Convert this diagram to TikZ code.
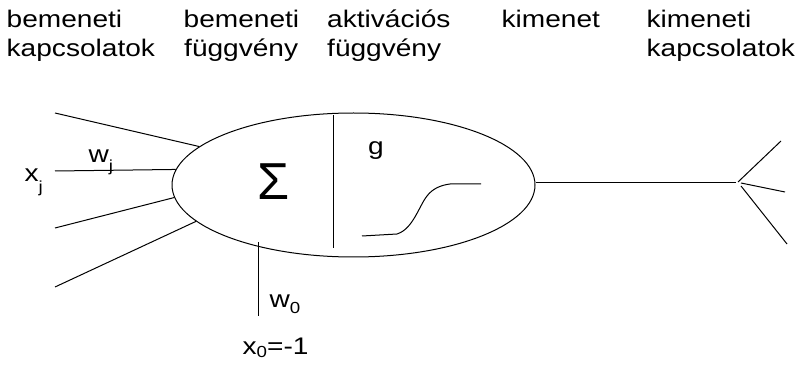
\documentclass[tikz,border=0pt]{standalone}
\usepackage{fontspec}
\setmainfont{Liberation Sans}
\newfontfamily\labfont{Liberation Sans}[FakeStretch=1.17]
\usetikzlibrary{shapes.geometric}
\newcommand{\lsub}[2]{\raisebox{-#1pt}{\fontsize{16}{16}\selectfont #2}}
\tikzset{
  lab/.style={anchor=base west, inner sep=0pt, font=\labfont\fontsize{24}{24}\selectfont},
  wire/.style={line width=1pt, black},
  cell/.style={draw, line width=1pt, shape=ellipse, minimum width=363pt, minimum height=144pt, inner sep=0pt}
}
\begin{document}
\begin{tikzpicture}[x=1pt, y=-1pt]
\useasboundingbox[fill=white] (0,0) rectangle (806,366);
% header labels
\node[lab] (h1a) at (6.5,28) {bemeneti};
\node[lab] (h1b) at (6.5,57) {kapcsolatok};
\node[lab] (h2a) at (183.5,28) {bemeneti};
\node[lab] (h2b) at (184,57) {függvény};
\node[lab] (h3a) at (327,28) {aktivációs};
\node[lab] (h3b) at (327,57) {függvény};
\node[lab] (h4a) at (501.5,28) {kimenet};
\node[lab] (h5a) at (646.5,28) {kimeneti};
\node[lab] (h5b) at (646.5,57) {kapcsolatok};
% neuron body
\node[cell] (e) at (353.5,185) {};
\coordinate (dtop) at (333,115);
\coordinate (dbot) at (333,248);
\draw[wire] (dtop) -- (dbot);
\node[inner sep=0pt, font=\fontsize{52}{52}\selectfont] (sig) at (274,181.5) {Σ};
\node[lab] (g) at (368,155) {g};
% sigmoid
\coordinate (s0) at (362,236);
\coordinate (s1) at (397,234);
\coordinate (s2) at (427,196);
\coordinate (s3) at (450,184);
\coordinate (s4) at (481,184);
\draw[wire] (s0) -- (s1) .. controls (413,229) and (419,206) .. (s2) .. controls (433,188) and (442,185) .. (s3) -- (s4);
% inputs
\coordinate (i1) at (55,113);
\coordinate (i2) at (55,171);
\coordinate (i3) at (55,228);
\coordinate (i4) at (55,287);
\draw[wire] (i1) -- (e.166.4);
\draw[wire] (i2) -- (e.175.9);
\draw[wire] (i3) -- (e.184.75);
\draw[wire] (i4) -- (e.193.7);
\node[lab] (xj) at (24.5,182) {x\lsub{11}{j}};
\node[lab] (wj) at (88.5,163) {w\lsub{9}{j}};
% bias
\coordinate (b0) at (258,242);
\coordinate (b1) at (258,316);
\draw[wire] (b0) -- (b1);
\node[lab] (w0) at (269.5,307) {w\lsub{6}{0}};
\node[lab] (x0) at (242.5,354) {x\lsub{3}{0}=-1};
% output
\coordinate (fork) at (736,183);
\draw[wire] (e.east |- fork) -- (fork);
\coordinate (f0) at (738,182);
\coordinate (f1) at (741,183);
\coordinate (f2) at (741,186);
\coordinate (o1) at (781,141);
\coordinate (o2) at (785,192);
\coordinate (o3) at (787,244);
\draw[wire] (f0) -- (o1);
\draw[wire] (f1) -- (o2);
\draw[wire] (f2) -- (o3);
\end{tikzpicture}
\end{document}
